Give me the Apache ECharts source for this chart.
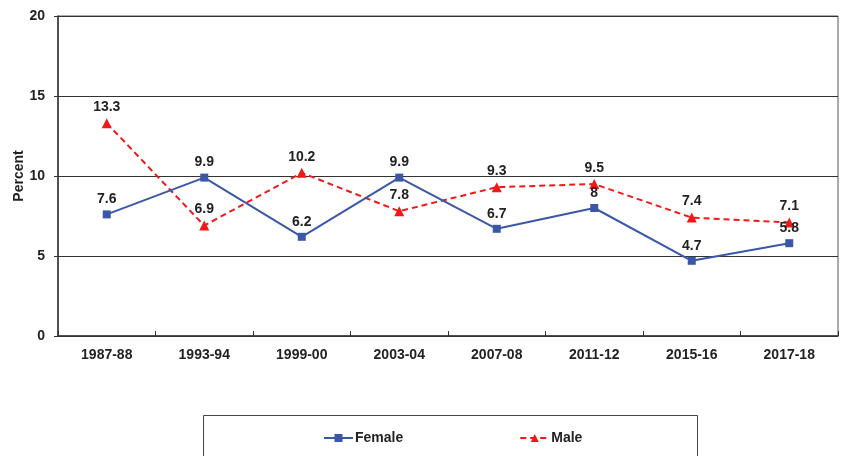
<!DOCTYPE html>
<html>
<head>
<meta charset="utf-8">
<script src="https://cdn.jsdelivr.net/npm/echarts@6/dist/echarts.min.js"></script>
<style>
  html, body { margin: 0; padding: 0; background: #fff; }
  #chart { width: 847px; height: 456px; }
</style>
</head>
<body>
<div id="chart"></div>
<script>
// Survey years on the category axis
const years = ['1987-88', '1993-94', '1999-00', '2003-04', '2007-08', '2011-12', '2015-16', '2017-18'];
// Percentages by sex
const female = [7.6, 9.9, 6.2, 9.9, 6.7, 8, 4.7, 5.8];
const male = [13.3, 6.9, 10.2, 7.8, 9.3, 9.5, 7.4, 7.1];
// Value axis
const yMin = 0, yMax = 20, yStep = 5;

const FONT = 'Arial, "Liberation Sans", sans-serif';
const TEXT = '#222';

const chart = echarts.init(document.getElementById('chart'), null, { renderer: 'canvas' });

const labelStyle = {
  show: true,
  position: 'top',
  distance: 4,
  fontFamily: FONT,
  fontWeight: 'bold',
  fontSize: 14,
  color: TEXT
};

chart.setOption({
  animation: false,
  backgroundColor: '#fff',
  grid: {
    left: 58, right: 9, top: 16, bottom: 120,
    outerBoundsMode: 'none',
    containLabel: false,
    show: true, borderColor: '#555', borderWidth: 1, backgroundColor: 'transparent'
  },
  legend: {
    data: ['Female', 'Male'],
    left: 323, top: 431,
    padding: 0,
    itemWidth: 29, itemHeight: 10, itemGap: 116,
    textStyle: { fontFamily: FONT, fontWeight: 'bold', fontSize: 14, color: TEXT, padding: [0, 0, 0, -3] }
  },
  graphic: [{
    type: 'rect',
    shape: { x: 203.5, y: 415.5, width: 494, height: 60 },
    style: { fill: 'none', stroke: '#444', lineWidth: 1 },
    silent: true
  }],
  xAxis: {
    type: 'category',
    data: years,
    boundaryGap: true,
    axisLine: { lineStyle: { color: '#333', width: 1.5 } },
    axisTick: { show: true, inside: true, length: 5, lineStyle: { color: '#333' } },
    axisLabel: { fontFamily: FONT, fontWeight: 'bold', fontSize: 14, color: TEXT, margin: 12 },
    splitLine: { show: false }
  },
  yAxis: {
    type: 'value',
    min: yMin, max: yMax, interval: yStep,
    name: 'Percent',
    nameLocation: 'middle',
    nameGap: 32,
    nameMoveOverlap: false,
    nameRotate: 90,
    nameTextStyle: { fontFamily: FONT, fontWeight: 'bold', fontSize: 14, color: TEXT },
    axisLine: { show: true, lineStyle: { color: '#333', width: 1.5 } },
    axisTick: { show: true, length: 4, lineStyle: { color: '#333' } },
    axisLabel: { fontFamily: FONT, fontWeight: 'bold', fontSize: 14, color: TEXT, margin: 13 },
    splitLine: { show: true, lineStyle: { color: '#333', width: 1 } }
  },
  series: [
    {
      name: 'Female',
      type: 'line',
      data: female,
      symbol: 'rect',
      symbolSize: 8,
      color: '#3b57a7',
      lineStyle: { color: '#3b57a7', width: 2 },
      itemStyle: { color: '#3b57a7' },
      label: labelStyle,
      z: 3
    },
    {
      name: 'Male',
      type: 'line',
      data: male,
      symbol: 'triangle',
      symbolSize: 10,
      color: '#f01818',
      lineStyle: { color: '#f01818', width: 2, type: [6, 4] },
      itemStyle: { color: '#f01818' },
      label: labelStyle,
      z: 2
    }
  ]
});
</script>
</body>
</html>
